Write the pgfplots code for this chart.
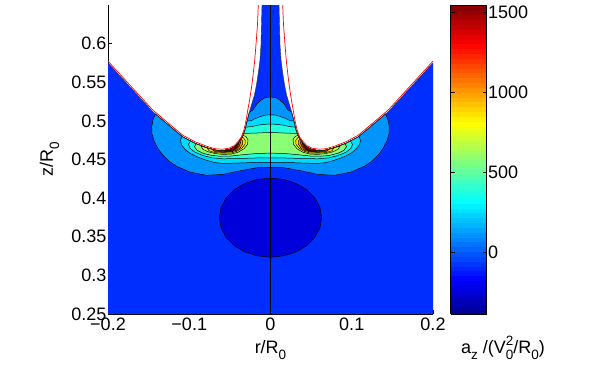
\documentclass[border=0pt]{standalone}
\usepackage{fontspec}
\setmainfont{Liberation Sans}
\usepackage{pgfplots}
\usepackage{pgfplotstable}
\pgfplotsset{compat=1.18}

\definecolor{cEll}{RGB}{0,0,219}
\definecolor{cBg}{RGB}{0,46,255}
\definecolor{cA}{RGB}{0,148,255}
\definecolor{cB}{RGB}{0,219,255}
\definecolor{cC}{RGB}{36,255,219}
\definecolor{cD}{RGB}{138,255,117}
\definecolor{cE}{RGB}{209,255,46}
\definecolor{cF}{RGB}{255,230,0}
\definecolor{cG}{RGB}{255,158,0}
\definecolor{cH}{RGB}{255,87,0}
\definecolor{cI}{RGB}{240,10,0}
\definecolor{cJ}{RGB}{175,0,0}

\newcommand{\sub}[1]{\raisebox{-6pt}{\fontsize{13.5}{13.5}\selectfont #1}}
\newcommand{\subsup}[2]{\rlap{\raisebox{8pt}{\fontsize{13.5}{13.5}\selectfont #2}}\raisebox{-6pt}{\fontsize{13.5}{13.5}\selectfont #1}}

% domain (left half), boundary of the flow region
\pgfplotstableread{
r z
-0.2 0.25
-0.2 0.5751
-0.14462 0.5116
-0.12000 0.4898
-0.10769 0.4791
-0.09292 0.4709
-0.07852 0.4652
-0.06831 0.4621
-0.05969 0.4614
-0.05108 0.4627
-0.04492 0.4660
-0.04000 0.4710
-0.03471 0.4788
-0.03138 0.4881
-0.02880 0.4998
-0.02609 0.5112
-0.02338 0.5209
-0.01969 0.5339
-0.01723 0.5469
-0.01477 0.5637
-0.01292 0.5793
-0.01169 0.5987
-0.01108 0.6246
-0.01046 0.65
0 0.65
0 0.25
}\tDom
\pgfplotstableread{
r z
-0.2 0.5751
-0.14462 0.5116
-0.12000 0.4898
-0.10769 0.4791
-0.09292 0.4709
-0.07852 0.4652
-0.06831 0.4621
-0.05969 0.4614
-0.05108 0.4627
-0.04492 0.4660
-0.04000 0.4710
-0.03471 0.4788
-0.03138 0.4881
-0.02880 0.4998
-0.02609 0.5112
-0.02338 0.5209
-0.01969 0.5339
-0.01723 0.5469
-0.01477 0.5637
-0.01292 0.5793
-0.01169 0.5987
-0.01108 0.6246
-0.01046 0.65
}\tEdge
\pgfplotstableread{
r z
-0.2 0.5773
-0.14462 0.5138
-0.1200 0.4920
-0.10769 0.4812
-0.09292 0.4730
-0.07852 0.4671
-0.06831 0.4639
-0.05969 0.4633
-0.05108 0.4646
-0.04492 0.4678
-0.04000 0.4730
-0.03569 0.4795
-0.03262 0.4885
-0.03015 0.5002
-0.02831 0.5119
-0.02585 0.5261
-0.02338 0.5430
-0.02154 0.5585
-0.01969 0.5754
-0.01785 0.5987
-0.0160 0.6247
-0.01502 0.65
}\tRed
\pgfplotstableread{
r z
0 0.4259
-0.01631 0.4242
-0.0315 0.4190
-0.04455 0.4109
-0.05456 0.4003
-0.06085 0.3880
-0.0630 0.3747
-0.06085 0.3615
-0.05456 0.3491
-0.04455 0.3385
-0.0315 0.3304
-0.01631 0.3253
0 0.3235
}\tEll
\pgfplotstableread{
r z
0 0.5309
-0.00677 0.5300
-0.01083 0.5274
-0.01662 0.5222
-0.02117 0.5145
-0.02609 0.5112
-0.02880 0.4998
-0.03138 0.4881
-0.03471 0.4788
-0.04000 0.4710
-0.04492 0.4660
-0.05108 0.4627
-0.05969 0.4614
-0.06831 0.4621
-0.07852 0.4652
-0.09292 0.4709
-0.10769 0.4791
-0.12000 0.4898
-0.14154 0.5089
-0.14462 0.5015
-0.14622 0.4924
-0.14585 0.4833
-0.14338 0.4743
-0.13908 0.4652
-0.13292 0.4561
-0.12554 0.4483
-0.11545 0.4412
-0.09908 0.4337
-0.07852 0.4295
-0.05809 0.4308
-0.03754 0.4354
-0.01698 0.4393
0 0.4399
}\tA
\pgfplotstableread{
r z
0 0.5080
-0.00677 0.5073
-0.01292 0.5054
-0.01908 0.5028
-0.02400 0.5002
-0.02880 0.4998
-0.03138 0.4881
-0.03471 0.4788
-0.04000 0.4710
-0.04492 0.4660
-0.05108 0.4627
-0.05969 0.4614
-0.06831 0.4621
-0.07852 0.4652
-0.09292 0.4709
-0.10769 0.4791
-0.10892 0.4801
-0.11077 0.4749
-0.10954 0.4691
-0.10523 0.4632
-0.09908 0.4581
-0.09046 0.4535
-0.07852 0.4490
-0.06831 0.4460
-0.05809 0.4448
-0.03754 0.4455
-0.01698 0.4463
0 0.4464
}\tB
\pgfplotstableread{
r z
0 0.4959
-0.00800 0.4955
-0.01538 0.4944
-0.02277 0.4927
-0.03058 0.4918
-0.03138 0.4881
-0.03471 0.4788
-0.04000 0.4710
-0.04492 0.4660
-0.05108 0.4627
-0.05969 0.4614
-0.06831 0.4621
-0.07852 0.4652
-0.09292 0.4709
-0.09846 0.4740
-0.10092 0.4697
-0.09908 0.4645
-0.09292 0.4594
-0.08308 0.4551
-0.07200 0.4522
-0.05846 0.4509
-0.03754 0.4513
-0.01698 0.4520
0 0.4522
}\tC
\pgfplotstableread{
r z
0 0.4850
-0.01046 0.4846
-0.02031 0.4841
-0.02769 0.4839
-0.03291 0.4839
-0.03471 0.4788
-0.04000 0.4710
-0.04492 0.4660
-0.05108 0.4627
-0.05969 0.4614
-0.06831 0.4621
-0.07852 0.4652
-0.09169 0.4704
-0.09354 0.4665
-0.09046 0.4620
-0.08308 0.4581
-0.07323 0.4555
-0.06215 0.4542
-0.04985 0.4544
-0.03508 0.4561
-0.01785 0.4577
0 0.4583
}\tD
\pgfplotstableread{
r z
-0.08554 0.4674
-0.08308 0.4632
-0.07692 0.4600
-0.06831 0.4577
-0.05846 0.4566
-0.04862 0.4570
-0.04000 0.4594
-0.03262 0.4639
-0.02831 0.4697
-0.02769 0.4756
-0.03015 0.4795
-0.03378 0.4814
-0.03471 0.4788
-0.04000 0.4710
-0.04492 0.4660
-0.05108 0.4627
-0.05969 0.4614
-0.06831 0.4621
-0.07852 0.4652
}\tE
\pgfplotstableread{
r z
-0.07815 0.4651
-0.07569 0.4613
-0.06831 0.4590
-0.05846 0.4581
-0.04862 0.4584
-0.04123 0.4607
-0.03508 0.4648
-0.03138 0.4697
-0.03102 0.4745
-0.03311 0.4778
-0.03471 0.4788
-0.04000 0.4710
-0.04492 0.4660
-0.05108 0.4627
-0.05969 0.4614
-0.06831 0.4621
}\tF
\pgfplotstableread{
r z
-0.07200 0.4632
-0.06892 0.4605
-0.05969 0.4592
-0.04985 0.4596
-0.04246 0.4616
-0.03717 0.4652
-0.03434 0.4700
-0.03446 0.4743
-0.03631 0.4762
-0.04000 0.4710
-0.04492 0.4660
-0.05108 0.4627
-0.05969 0.4614
-0.06831 0.4621
}\tG
\pgfplotstableread{
r z
-0.06708 0.4620
-0.06338 0.4603
-0.05600 0.4598
-0.04862 0.4605
-0.04246 0.4629
-0.03840 0.4671
-0.03692 0.4717
-0.03754 0.4745
-0.04000 0.4710
-0.04492 0.4660
-0.05108 0.4627
-0.05969 0.4614
}\tH
\pgfplotstableread{
r z
-0.06215 0.4616
-0.05600 0.4605
-0.04862 0.4613
-0.04369 0.4634
-0.04037 0.4671
-0.03902 0.4710
-0.03877 0.4726
-0.04000 0.4710
-0.04492 0.4660
-0.05108 0.4627
-0.05969 0.4614
}\tI
\pgfplotstableread{
r z
-0.05723 0.4617
-0.05108 0.4610
-0.04615 0.4627
-0.04308 0.4655
-0.04148 0.4684
-0.04000 0.4710
-0.04492 0.4660
-0.05108 0.4627
}\tJ

\newcommand{\region}[2]{%
  \addplot[fill=#1, draw=black, line width=0.5pt] table[x=r,y=z]{#2} -- cycle;
  \addplot[fill=#1, draw=black, line width=0.5pt] table[x expr=-\thisrow{r},y=z]{#2} -- cycle;
}

\begin{document}
\begin{tikzpicture}
\useasboundingbox (0,0) rectangle (600pt,370pt);
\begin{axis}[
  at={(108pt,56pt)}, anchor=south west,
  scale only axis, width=325pt, height=309pt,
  xmin=-0.2, xmax=0.2, ymin=0.25, ymax=0.65,
  axis x line*=bottom, axis y line*=left,
  tick align=inside, major tick length=4pt,
  tick style={black, line width=0.5pt},
  xtick={-0.2,-0.1,0,0.1,0.2},
  xticklabels={−0.2,−0.1,0,0.1,0.2},
  ytick={0.25,0.3,0.35,0.4,0.45,0.5,0.55,0.6},
  yticklabels={0.25,0.3,0.35,0.4,0.45,0.5,0.55,0.6},
  tick label style={font=\fontsize{18}{18}\selectfont},
  yticklabel style={xshift=2pt},
  label style={font=\fontsize{18}{18}\selectfont},
  xlabel={r/R\sub{0}},
  ylabel={z/R\sub{0}},
  xlabel style={at={(axis description cs:0.5,0)}, anchor=base, yshift=-39pt},
  ylabel style={at={(axis description cs:0,0.5)}, anchor=base, yshift=55pt},
  colormap={matjet}{rgb255(0pt)=(0,0,143); rgb255(7pt)=(0,0,255); rgb255(23pt)=(0,255,255); rgb255(39pt)=(255,255,0); rgb255(55pt)=(255,0,0); rgb255(63pt)=(128,0,0)},
  point meta min=-389, point meta max=1546,
  colorbar sampled,
  colorbar style={
    samples=65,
    scale only axis,
    at={(parent axis.north east)}, anchor=north west, xshift=9pt,
    width=36pt, height=309pt,
    ytick={0,500,1000,1500},
    yticklabels={0,500,1000,1500},
    yticklabel pos=right,
    ytick pos=both,
    tick align=inside,
    major tick length=4pt,
    ytick style={black, line width=0.5pt},
    yticklabel style={font=\fontsize{18}{18}\selectfont, xshift=-2pt},
  },
]
\addplot[fill=cBg, draw=none] table[x=r,y=z]{\tDom} -- cycle;
\addplot[fill=cBg, draw=none] table[x expr=-\thisrow{r},y=z]{\tDom} -- cycle;
\region{cEll}{\tEll}
\region{cA}{\tA}
\region{cB}{\tB}
\region{cC}{\tC}
\region{cD}{\tD}
\region{cE}{\tE}
\region{cF}{\tF}
\region{cG}{\tG}
\region{cH}{\tH}
\region{cI}{\tI}
\region{cJ}{\tJ}
\addplot[black!80, line width=0.4pt] table[x=r,y=z]{\tEdge};
\addplot[black!80, line width=0.4pt] table[x expr=-\thisrow{r},y=z]{\tEdge};
\addplot[red, line width=0.7pt] table[x=r,y=z]{\tRed};
\addplot[red, line width=0.7pt] table[x expr=-\thisrow{r},y=z]{\tRed};
\addplot[black, line width=0.7pt] coordinates {(0,0.25) (0,0.65)};
\end{axis}
\node[anchor=base, inner sep=0pt, font=\fontsize{18}{18}\selectfont] at (503pt,17pt) {a\sub{z} /(V\subsup{0}{2}/R\sub{0})};
\end{tikzpicture}
\end{document}
